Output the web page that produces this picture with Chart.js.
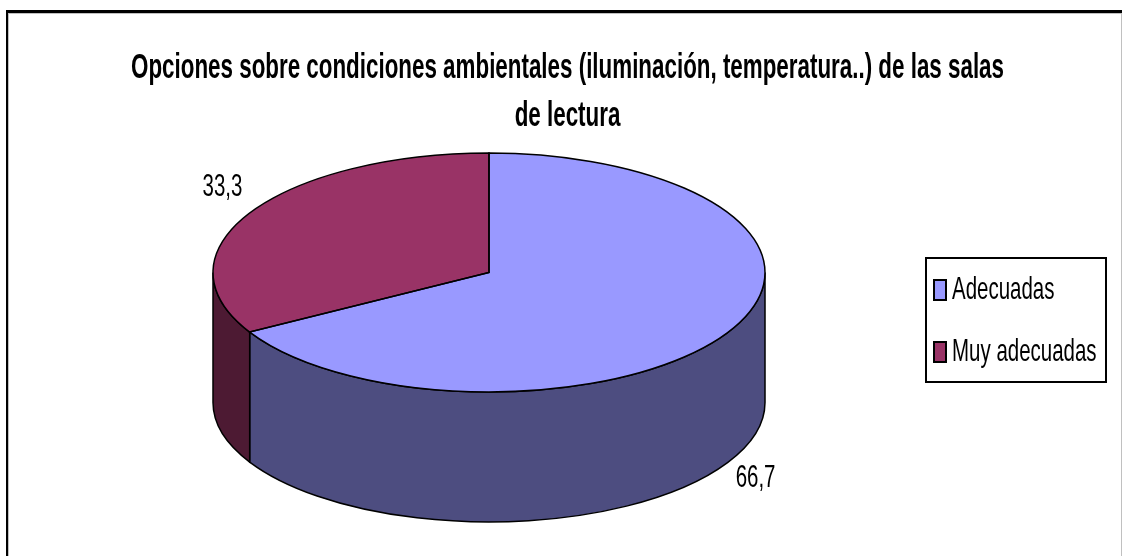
<!DOCTYPE html>
<html><head><meta charset="utf-8">
<style>html,body{margin:0;padding:0;background:#fff}canvas{display:block}</style>
<script src="https://cdn.jsdelivr.net/npm/chart.js@4"></script></head>
<body><div style="width:1122px;height:556px;position:relative"><canvas id="c" width="1122" height="556"></canvas></div>
<script>
const categories = ['Adecuadas', 'Muy adecuadas'];
const seriesValues = [66.7, 33.3];
const valueLabels = ['66,7', '33,3'];
const titleLines = ['Opciones sobre condiciones ambientales (iluminación, temperatura..) de las salas', 'de lectura'];
const topColors = ['#9999ff', '#993366'];
const sideColors = ['#4d4d80', '#4d1a33'];
const FONT = '"Liberation Sans",Arial,sans-serif';
const ellipse = {cx: 489, cy: 272.5, rx: 276, ry: 119.5, depth: 130};
const titleCentre = 567.5, titleWidth = 873;

function squeeze(box) {
  const orig = box.draw.bind(box);
  box.draw = function (area) {
    const ctx = box.ctx;
    ctx.save();
    ctx.font = 'bold ' + box.options.font.size + 'px ' + FONT;
    const natural = ctx.measureText(titleLines[0]).width;
    const factor = titleWidth / natural;
    const l = box.left, r = box.right;
    const centre = (l + r) / 2;
    box.left = centre - natural; box.right = centre + natural;
    ctx.translate(titleCentre, 0);
    ctx.scale(factor, 1);
    ctx.translate(-centre, 0);
    orig(area);
    box.left = l; box.right = r;
    ctx.restore();
  };
  box._squeezed = true;
}

const pie3d = {
  id: 'pie3d',
  afterLayout(chart) {
    if (chart.titleBlock && !chart.titleBlock._squeezed) squeeze(chart.titleBlock);
  },
  beforeDraw(chart) {
    const ctx = chart.ctx;
    ctx.save();
    ctx.fillStyle = '#fff';
    ctx.fillRect(0, 0, chart.width, chart.height);
    ctx.fillStyle = '#c0c0c0';
    ctx.fillRect(8, 13, 1114, 1);
    ctx.fillRect(8, 13, 1, 543);
    ctx.fillRect(1121, 13, 1, 543);
    ctx.fillStyle = '#000';
    ctx.fillRect(6, 10, 1116, 3);
    ctx.fillRect(6, 10, 2, 546);
    ctx.restore();
  },
  beforeDatasetsDraw(chart) {
    const ctx = chart.ctx;
    const arcs = chart.getDatasetMeta(0).data;
    const a0 = arcs[0];
    const sx = ellipse.rx / a0.outerRadius, sy = ellipse.ry / a0.outerRadius;
    const tx = ellipse.cx - a0.x * sx, ty = ellipse.cy - a0.y * sy;
    ctx.save();
    const ex = (a) => ellipse.cx + ellipse.rx * Math.cos(a);
    const ey = (a) => ellipse.cy + ellipse.ry * Math.sin(a);
    arcs.forEach((arc, i) => {
      const from = i === 0 ? Math.max(arc.startAngle, 0) : arc.startAngle;
      const to = i === 0 ? Math.min(arc.endAngle, Math.PI) : Math.PI;
      ctx.fillStyle = sideColors[i];
      ctx.strokeStyle = '#000';
      ctx.lineWidth = 1.5;
      ctx.beginPath();
      ctx.moveTo(ex(from), ey(from));
      ctx.ellipse(ellipse.cx, ellipse.cy, ellipse.rx, ellipse.ry, 0, from, to);
      ctx.lineTo(ex(to), ey(to) + ellipse.depth);
      ctx.ellipse(ellipse.cx, ellipse.cy + ellipse.depth, ellipse.rx, ellipse.ry, 0, to, from, true);
      ctx.closePath();
      ctx.fill();
      ctx.stroke();
    });
    ctx.restore();
    ctx.save();
    ctx.translate(tx, ty);
    ctx.scale(sx, sy);
  },
  afterDatasetsDraw(chart) {
    const ctx = chart.ctx;
    ctx.restore();
    const arcs = chart.getDatasetMeta(0).data;
    ctx.save();
    ctx.strokeStyle = '#000';
    ctx.lineWidth = 1.5;
    arcs.forEach((arc) => {
      ctx.beginPath();
      ctx.moveTo(ellipse.cx, ellipse.cy);
      const a = arc.startAngle, b = arc.endAngle;
      ctx.lineTo(ellipse.cx + ellipse.rx * Math.cos(a), ellipse.cy + ellipse.ry * Math.sin(a));
      ctx.ellipse(ellipse.cx, ellipse.cy, ellipse.rx, ellipse.ry, 0, a, b);
      ctx.closePath();
      ctx.stroke();
    });
    ctx.fillStyle = '#000';
    ctx.font = '32px ' + FONT;
    ctx.textAlign = 'center';
    ctx.textBaseline = 'middle';
    arcs.forEach((arc, i) => {
      const m = (arc.startAngle + arc.endAngle) / 2;
      const lx = ellipse.cx + (ellipse.rx + 32) * Math.cos(m);
      const front = Math.sin(m) > 0;
      const ly = ellipse.cy + (ellipse.ry + (front ? 31 : 50)) * Math.sin(m) + (front ? ellipse.depth : 0);
      ctx.save();
      ctx.translate(lx, ly);
      ctx.scale(0.64, 1);
      ctx.fillText(valueLabels[i], 0, 0);
      ctx.restore();
    });
    ctx.strokeStyle = '#000';
    ctx.lineWidth = 2;
    ctx.strokeRect(926, 258, 180, 124);
    const rows = [290, 352];
    categories.forEach((t, i) => {
      ctx.fillStyle = topColors[i];
      ctx.fillRect(934, rows[i] - 10, 12, 20);
      ctx.lineWidth = 2;
      ctx.strokeRect(934, rows[i] - 10, 12, 20);
      ctx.fillStyle = '#000';
      ctx.font = '32px ' + FONT;
      ctx.textAlign = 'left';
      ctx.save();
      ctx.translate(952, rows[i]);
      ctx.scale(0.64, 1);
      ctx.fillText(t, 0, 0);
      ctx.restore();
    });
    ctx.restore();
  }
};

new Chart(document.getElementById('c'), {
  type: 'pie',
  data: {
    labels: categories,
    datasets: [{data: seriesValues, backgroundColor: topColors, borderWidth: 0}]
  },
  options: {
    responsive: false,
    animation: false,
    rotation: 0,
    layout: {padding: {top: 44, left: 200, right: 16, bottom: 30}},
    plugins: {
      tooltip: {enabled: false},
      legend: {display: false},
      title: {
        display: true,
        text: titleLines,
        color: '#000',
        align: 'center',
        font: {family: FONT, size: 35, weight: 'bold', lineHeight: 1.37},
        padding: {top: 0, bottom: 4}
      }
    }
  },
  plugins: [pie3d]
});
</script></body></html>
